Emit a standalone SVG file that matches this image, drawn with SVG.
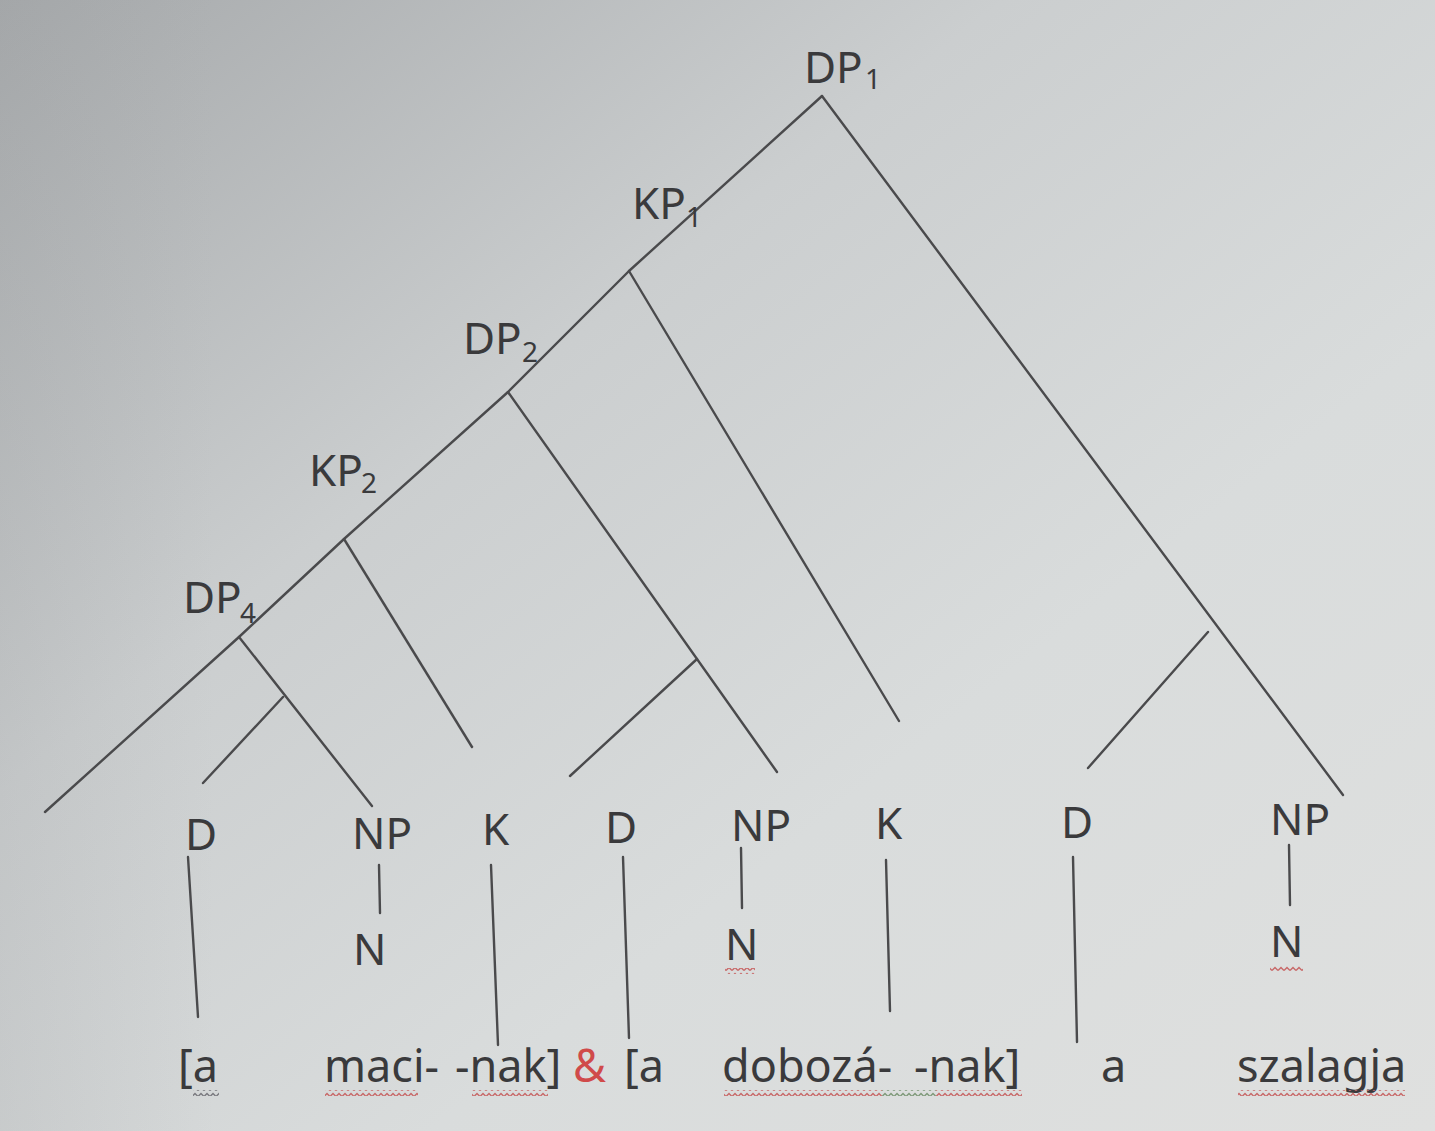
<svg xmlns="http://www.w3.org/2000/svg" width="1435" height="1131" viewBox="0 0 1435 1131">
  <defs>
    <linearGradient id="bg" x1="0" y1="0" x2="1" y2="1">
      <stop offset="0" stop-color="#a6a9ab"/>
      <stop offset="0.35" stop-color="#cbcecf"/>
      <stop offset="0.65" stop-color="#d9dcdc"/>
      <stop offset="1" stop-color="#dfe0df"/>
    </linearGradient>
    <linearGradient id="bgl" x1="0" y1="0" x2="1" y2="0">
      <stop offset="0" stop-color="#9a9c9e" stop-opacity="0.18"/>
      <stop offset="0.15" stop-color="#9a9c9e" stop-opacity="0"/>
    </linearGradient>
    <pattern id="sqRed" patternUnits="userSpaceOnUse" width="6" height="6">
      <path d="M0,4.5 L3,1.5 L6,4.5" fill="none" stroke="#c86a6a" stroke-width="1.5"/>
    </pattern>
    <pattern id="sqGray" patternUnits="userSpaceOnUse" width="6" height="6">
      <path d="M0,4.5 L3,1.5 L6,4.5" fill="none" stroke="#7a7a80" stroke-width="1.5"/>
    </pattern>
    <pattern id="sqGreen" patternUnits="userSpaceOnUse" width="6" height="6">
      <path d="M0,4.5 L3,1.5 L6,4.5" fill="none" stroke="#7f9a7a" stroke-width="1.5"/>
    </pattern>
  </defs>
  <style>
    .edge { fill: none; stroke: #4a4a4c; stroke-width: 2.4; stroke-linecap: round; stroke-linejoin: round; }
    .lbl { font-family: "Noto Sans", "Liberation Sans", sans-serif; font-size: 44px; fill: #3a3a3c; }
    .sub { font-family: "Noto Sans", "Liberation Sans", sans-serif; font-size: 28px; fill: #3a3a3c; }
    .word { font-family: "Noto Sans", "Liberation Sans", sans-serif; font-size: 45px; fill: #3a3a3c; }
    .amp { fill: #d04a4a; }
  </style>

  <rect x="0" y="0" width="1435" height="1131" fill="url(#bg)"/>
  <rect x="0" y="0" width="1435" height="1131" fill="url(#bgl)"/>

  <g id="connectors">
    <polyline class="edge" points="822,96 629,271 508,392 344,539 239,637 45,812"/>
    <line class="edge" x1="822" y1="96" x2="1343" y2="795"/>
    <line class="edge" x1="1208" y1="632" x2="1088" y2="768"/>
    <line class="edge" x1="629" y1="271" x2="899" y2="721"/>
    <line class="edge" x1="508" y1="392" x2="777" y2="772"/>
    <line class="edge" x1="697" y1="659" x2="570" y2="776"/>
    <line class="edge" x1="344" y1="539" x2="472" y2="747"/>
    <line class="edge" x1="239" y1="637" x2="372" y2="806"/>
    <line class="edge" x1="283" y1="697" x2="203" y2="783"/>
    <line class="edge" x1="188" y1="857" x2="198" y2="1017"/>
    <line class="edge" x1="379" y1="865" x2="380" y2="913"/>
    <line class="edge" x1="491" y1="865" x2="498" y2="1045"/>
    <line class="edge" x1="623" y1="857" x2="629" y2="1038"/>
    <line class="edge" x1="741" y1="848" x2="742" y2="908"/>
    <line class="edge" x1="886" y1="860" x2="890" y2="1011"/>
    <line class="edge" x1="1073" y1="857" x2="1077" y2="1042"/>
    <line class="edge" x1="1289" y1="845" x2="1290" y2="905"/>
  </g>

  <g id="node-DP1">
    <text class="lbl" x="804" y="83">DP</text>
    <text class="sub" x="865" y="89">1</text>
  </g>
  <g id="node-KP1">
    <text class="lbl" x="632" y="219">KP</text>
    <text class="sub" x="686" y="227">1</text>
  </g>
  <g id="node-DP2">
    <text class="lbl" x="463" y="354">DP</text>
    <text class="sub" x="522" y="362">2</text>
  </g>
  <g id="node-KP2">
    <text class="lbl" x="309" y="486">KP</text>
    <text class="sub" x="361" y="493">2</text>
  </g>
  <g id="node-DP4">
    <text class="lbl" x="183" y="613">DP</text>
    <text class="sub" x="240" y="623">4</text>
  </g>

  <g id="node-D1"><text class="lbl" x="185" y="850">D</text></g>
  <g id="node-NP1"><text class="lbl" x="352" y="849">NP</text></g>
  <g id="node-N1"><text class="lbl" x="353" y="965">N</text></g>
  <g id="node-K1"><text class="lbl" x="482" y="845">K</text></g>
  <g id="node-D2"><text class="lbl" x="605" y="843">D</text></g>
  <g id="node-NP2"><text class="lbl" x="731" y="841">NP</text></g>
  <g id="node-N2"><text class="lbl" x="725" y="960">N</text></g>
  <g id="node-K2"><text class="lbl" x="875" y="839">K</text></g>
  <g id="node-D3"><text class="lbl" x="1061" y="838">D</text></g>
  <g id="node-NP3"><text class="lbl" x="1270" y="835">NP</text></g>
  <g id="node-N3"><text class="lbl" x="1270" y="957">N</text></g>

  <g id="words">
    <text class="word" x="178" y="1082">[a</text>
    <text class="word" x="324" y="1082">maci-</text>
    <text class="word" x="455" y="1082">-nak]</text>
    <text class="word amp" x="573" y="1082">&amp;</text>
    <text class="word" x="624" y="1082">[a</text>
    <text class="word" x="722" y="1082">dobozá-</text>
    <text class="word" x="914" y="1082">-nak]</text>
    <text class="word" x="1101" y="1082">a</text>
    <text class="word" x="1237" y="1082">szalagja</text>
  </g>

  <g id="spellcheck">
    <rect x="193" y="1090" width="26" height="6" fill="url(#sqGray)"/>
    <rect x="325" y="1090" width="93" height="6" fill="url(#sqRed)"/>
    <rect x="472" y="1090" width="76" height="6" fill="url(#sqRed)"/>
    <rect x="724" y="1090" width="158" height="6" fill="url(#sqRed)"/>
    <rect x="882" y="1090" width="54" height="6" fill="url(#sqGreen)"/>
    <rect x="936" y="1090" width="86" height="6" fill="url(#sqRed)"/>
    <rect x="1238" y="1090" width="167" height="6" fill="url(#sqRed)"/>
    <rect x="725" y="968" width="30" height="6" fill="url(#sqRed)"/>
    <rect x="1270" y="966" width="33" height="6" fill="url(#sqRed)"/>
  </g>
</svg>
